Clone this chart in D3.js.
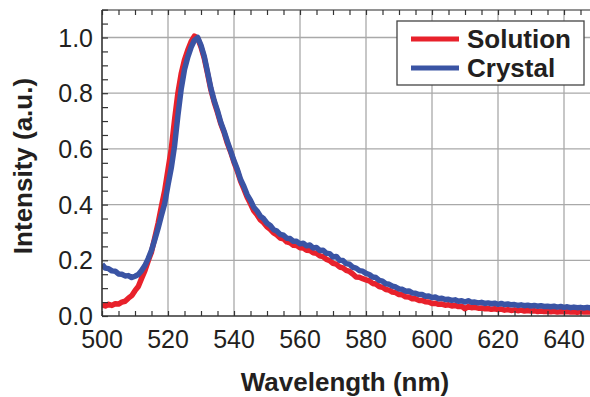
<!DOCTYPE html>
<html>
<head>
<meta charset="utf-8">
<script src="https://cdn.jsdelivr.net/npm/d3@7"></script>
<style>
  html, body { margin: 0; padding: 0; background: #fff; }
  svg { display: block; font-family: "Liberation Sans", Arial, Helvetica, sans-serif; }
</style>
</head>
<body>
<svg id="chart" width="590" height="397"></svg>
<script>
// ---------- data ----------
const wavelengthStart = 500;
const wavelengthEnd = 648;
const seriesNames = ["Solution", "Crystal"];
const seriesColors = ["#e8212b", "#3a54a4"];
const xTicks = [500, 520, 540, 560, 580, 600, 620, 640];
const yTicks = [0.0, 0.2, 0.4, 0.6, 0.8, 1.0];
const xLabel = "Wavelength (nm)";
const yLabel = "Intensity (a.u.)";

// Solution (red), one value per nm from 500 to 648
const solution = [
  0.040,0.036,0.042,0.038,0.044,0.043,0.050,0.053,0.064,0.073,
  0.091,0.106,0.135,0.163,0.198,0.230,0.281,0.333,0.393,0.450,
  0.525,0.600,0.705,0.800,0.870,0.920,0.955,0.985,1.005,0.997,
  0.966,0.925,0.870,0.812,0.768,0.731,0.690,0.659,0.620,0.589,
  0.552,0.521,0.484,0.456,0.426,0.403,0.378,0.363,0.345,0.335,
  0.320,0.311,0.298,0.291,0.280,0.277,0.266,0.263,0.254,0.253,
  0.245,0.244,0.236,0.235,0.227,0.225,0.216,0.213,0.203,0.199,
  0.189,0.186,0.176,0.173,0.164,0.160,0.151,0.140,0.139,0.134,
  0.130,0.126,0.117,0.115,0.106,0.103,0.095,0.093,0.086,0.084,
  0.077,0.076,0.069,0.068,0.062,0.062,0.056,0.056,0.051,0.050,
  0.045,0.046,0.042,0.043,0.039,0.040,0.036,0.038,0.034,0.035,
  0.026,0.034,0.030,0.031,0.028,0.029,0.026,0.027,0.024,0.026,
  0.023,0.025,0.021,0.023,0.020,0.022,0.019,0.021,0.018,0.020,
  0.018,0.019,0.016,0.018,0.016,0.017,0.015,0.017,0.014,0.016,
  0.015,0.016,0.014,0.015,0.013,0.016,0.014,0.015,0.014
];

// Crystal (blue), one value per nm from 500 to 648
const crystal = [
  0.185,0.172,0.170,0.162,0.161,0.151,0.150,0.144,0.145,0.138,
  0.143,0.149,0.163,0.181,0.206,0.236,0.274,0.315,0.361,0.404,
  0.470,0.532,0.612,0.720,0.815,0.885,0.930,0.965,0.990,1.000,
  0.972,0.932,0.875,0.818,0.773,0.737,0.695,0.663,0.626,0.592,
  0.557,0.527,0.490,0.465,0.435,0.415,0.390,0.377,0.358,0.349,
  0.333,0.325,0.310,0.305,0.293,0.290,0.279,0.278,0.268,0.268,
  0.259,0.261,0.252,0.255,0.244,0.246,0.235,0.236,0.225,0.224,
  0.212,0.214,0.200,0.199,0.188,0.186,0.175,0.172,0.163,0.161,
  0.153,0.149,0.140,0.138,0.128,0.125,0.116,0.114,0.107,0.104,
  0.097,0.096,0.089,0.090,0.083,0.082,0.077,0.077,0.071,0.072,
  0.066,0.068,0.062,0.064,0.059,0.060,0.056,0.058,0.053,0.055,
  0.050,0.055,0.049,0.050,0.047,0.049,0.045,0.047,0.044,0.046,
  0.042,0.045,0.041,0.043,0.040,0.041,0.038,0.040,0.037,0.039,
  0.036,0.038,0.035,0.037,0.034,0.035,0.033,0.035,0.032,0.034,
  0.031,0.033,0.030,0.032,0.030,0.031,0.029,0.031,0.029
];

// ---------- layout ----------
const svg = d3.select("#chart");
const plot = { left: 102, right: 590, top: 10, bottom: 316 };
const textColor = "#231f20";

const x = d3.scaleLinear().domain([500, 648]).range([plot.left, plot.left + 148 * 3.3]);
const y = d3.scaleLinear().domain([0, 1]).range([plot.bottom, plot.bottom - 278.5]);

const wavelengths = d3.range(wavelengthStart, wavelengthEnd + 1);

// clip
svg.append("defs").append("clipPath").attr("id", "clip")
  .append("rect")
  .attr("x", plot.left).attr("y", plot.top)
  .attr("width", plot.right - plot.left).attr("height", plot.bottom - plot.top);

// grid
const grid = svg.append("g");
grid.selectAll("line.vg").data(xTicks.filter(d => d > 500)).enter().append("line")
  .attr("x1", d => x(d)).attr("x2", d => x(d))
  .attr("y1", plot.top).attr("y2", plot.bottom)
  .attr("stroke", "#a9a9a9").attr("stroke-width", 1.3);
grid.selectAll("line.hg").data(yTicks.filter(d => d > 0)).enter().append("line")
  .attr("x1", plot.left).attr("x2", plot.right)
  .attr("y1", d => y(d)).attr("y2", d => y(d))
  .attr("stroke", "#a9a9a9").attr("stroke-width", 1.3);

// curves
const line = d3.line().x(d => x(d[0])).y(d => y(d[1]));
const curves = svg.append("g").attr("clip-path", "url(#clip)");
[solution, crystal].forEach((vals, i) => {
  curves.append("path")
    .datum(wavelengths.map((w, k) => [w, vals[k]]))
    .attr("d", line)
    .attr("fill", "none")
    .attr("stroke", seriesColors[i])
    .attr("stroke-width", 5.5)
    .attr("stroke-linejoin", "round");
});

// frame lines
svg.append("line").attr("x1", plot.left).attr("x2", plot.right)
  .attr("y1", plot.top).attr("y2", plot.top)
  .attr("stroke", "#6e6e6e").attr("stroke-width", 1.3);

// axes via d3 axis generators (ticks inward)
const minorX = d3.range(500, 650, 5);
const minorY = d3.range(0, 1.1001, 0.05);

const yAxis = d3.axisRight(y).tickValues(minorY).tickSize(6).tickFormat("");
const gy = svg.append("g").attr("transform", `translate(${plot.left},0)`).call(yAxis);
gy.select(".domain").remove();
gy.selectAll(".tick line").attr("stroke", "#333").attr("stroke-width", 1.2);
svg.append("line").attr("x1", plot.left).attr("x2", plot.left)
  .attr("y1", plot.top).attr("y2", plot.bottom)
  .attr("stroke", "#333").attr("stroke-width", 1.6);

const xAxisB = d3.axisTop(x).tickValues(minorX).tickSize(5).tickFormat("");
const gxb = svg.append("g").attr("transform", `translate(0,${plot.bottom})`).call(xAxisB);
gxb.select(".domain").remove();
gxb.selectAll(".tick line").attr("stroke", "#333").attr("stroke-width", 1.2);

const xAxisT = d3.axisBottom(x).tickValues(minorX).tickSize(5).tickFormat("");
const gxt = svg.append("g").attr("transform", `translate(0,${plot.top})`).call(xAxisT);
gxt.select(".domain").remove();
gxt.selectAll(".tick line").attr("stroke", "#333").attr("stroke-width", 1.2);

svg.append("line").attr("x1", plot.left).attr("x2", plot.right)
  .attr("y1", plot.bottom).attr("y2", plot.bottom)
  .attr("stroke", "#333").attr("stroke-width", 1.6);

// tick labels
svg.append("g").selectAll("text").data(yTicks).enter().append("text")
  .attr("x", 93).attr("y", d => y(d) + 9)
  .attr("text-anchor", "end")
  .attr("font-size", 25).attr("fill", textColor)
  .text(d => d.toFixed(1));

svg.append("g").selectAll("text").data(xTicks).enter().append("text")
  .attr("x", d => x(d)).attr("y", 348)
  .attr("text-anchor", "middle")
  .attr("font-size", 25).attr("fill", textColor)
  .text(d => d);

// axis titles
svg.append("text")
  .attr("x", 345).attr("y", 391)
  .attr("text-anchor", "middle")
  .attr("font-size", 26).attr("font-weight", "bold").attr("fill", textColor)
  .text(xLabel);

svg.append("text")
  .attr("transform", "translate(32,166) rotate(-90)")
  .attr("text-anchor", "middle")
  .attr("font-size", 26).attr("font-weight", "bold").attr("fill", textColor)
  .text(yLabel);

// legend
const lg = svg.append("g");
lg.append("rect").attr("x", 397).attr("y", 21).attr("width", 187).attr("height", 64)
  .attr("fill", "#fff").attr("stroke", "#444").attr("stroke-width", 1.3);
seriesNames.forEach((name, i) => {
  const ly = [39, 68][i];
  lg.append("line").attr("x1", 411).attr("x2", 459).attr("y1", ly).attr("y2", ly)
    .attr("stroke", seriesColors[i]).attr("stroke-width", 5);
  lg.append("text").attr("x", 467).attr("y", [48, 77][i])
    .attr("font-size", 26).attr("font-weight", "bold").attr("fill", textColor)
    .text(name);
});
</script>
</body>
</html>
